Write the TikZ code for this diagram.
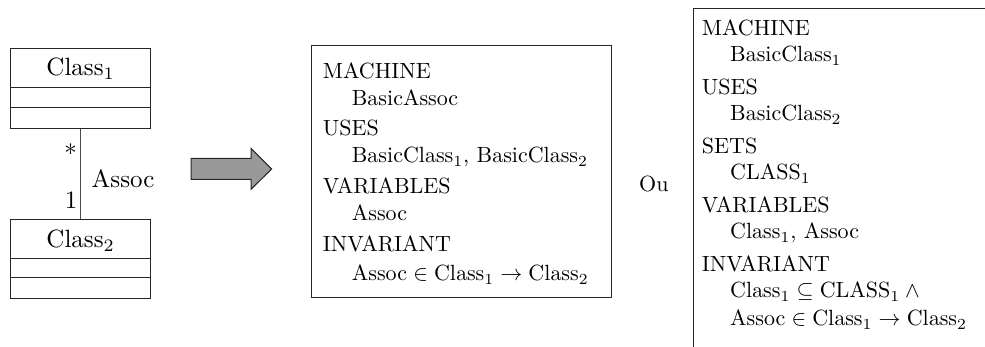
\documentclass[tikz,border=0pt]{standalone}
\usepackage{graphicx}
\newcommand{\bsc}[1]{\scalebox{2.2}{#1}}
\newcommand{\lsc}[1]{\scalebox{2.5}{#1}}
\begin{document}
\begin{tikzpicture}[x=1pt,y=-1pt,
  big/.style={inner sep=0pt},
  txt/.style={inner sep=0pt, anchor=base west},
  box/.style={draw=black!85, line width=1pt, inner sep=0pt},
  assocline/.style={draw=black!70, line width=0.8pt},
  bigarrow/.style={draw=black!85, line width=1pt, fill=black!40}]
\useasboundingbox (0,0) rectangle (985,347);
\clip (0,0) rectangle (985,347);
% UML classes
\node[box, minimum width=140pt, minimum height=80pt] (c1) at (80.7,88.3) {};
\node[big, anchor=base] (c1t) at (80.7,76) {\lsc{Class$_1$}};
\draw[box] (c1.north west) ++(0,40) -- ++(140,0);
\draw[box] (c1.north west) ++(0,60) -- ++(140,0);
\node[box, minimum width=140pt, minimum height=79pt] (c2) at (80.7,258.8) {};
\node[big, anchor=base] (c2t) at (80.7,247.5) {\lsc{Class$_2$}};
\draw[box] (c2.north west) ++(0,40) -- ++(140,0);
\draw[box] (c2.north west) ++(0,59) -- ++(140,0);
\draw[assocline] (c1.south) -- (c2.north);
\node[big, anchor=base east] (m1) at (77,162.5) {\lsc{*}};
\node[big, anchor=base east] (m2) at (77.5,208.3) {\lsc{1}};
\node[big, anchor=base west] (al) at (91.5,188) {\lsc{Assoc}};
% big arrow
\draw[bigarrow] (191,158.3) -- (251,158.3) -- (251,148.3) -- (271.7,169)
  -- (251,189.3) -- (251,179.3) -- (191,179.3) -- cycle;
% middle B machine
\node[box, minimum width=300pt, minimum height=252pt] (mb) at (461.7,172) {};
\node[txt] (mb1) at (322.7,79) {\bsc{MACHINE}};
\node[txt] (mb2) at (351.7,106) {\bsc{BasicAssoc}};
\node[txt] (mb3) at (322.7,136) {\bsc{USES}};
\node[txt] (mb4) at (351.7,163) {\bsc{BasicClass$_1$, BasicClass$_2$}};
\node[txt] (mb5) at (322.7,193.5) {\bsc{VARIABLES}};
\node[txt] (mb6) at (351.7,221) {\bsc{Assoc}};
\node[txt] (mb7) at (322.7,252) {\bsc{INVARIANT}};
\node[txt] (mb8) at (351.7,281) {\bsc{$\mathrm{Assoc}\in\mathrm{Class}_1\rightarrow\mathrm{Class}_2$}};
% Ou
\node[txt] (ou) at (639,192) {\bsc{Ou}};
% right B machine
\node[box, minimum width=400pt, minimum height=400pt, anchor=north west] (rb) at (693.3,8.3) {};
\node[txt] (rb1) at (701.7,36) {\bsc{MACHINE}};
\node[txt] (rb2) at (730,62) {\bsc{BasicClass$_1$}};
\node[txt] (rb3) at (701.7,95) {\bsc{USES}};
\node[txt] (rb4) at (730,121) {\bsc{BasicClass$_2$}};
\node[txt] (rb5) at (701.7,154) {\bsc{SETS}};
\node[txt] (rb6) at (730,180) {\bsc{CLASS$_1$}};
\node[txt] (rb7) at (701.7,213) {\bsc{VARIABLES}};
\node[txt] (rb8) at (730,239) {\bsc{Class$_1$, Assoc}};
\node[txt] (rb9) at (701.7,272) {\bsc{INVARIANT}};
\node[txt] (rb10) at (730,298) {\bsc{$\mathrm{Class}_1\subseteq\mathrm{CLASS}_1\wedge{}$}};
\node[txt] (rb11) at (730,326) {\bsc{$\mathrm{Assoc}\in\mathrm{Class}_1\rightarrow\mathrm{Class}_2$}};
\end{tikzpicture}
\end{document}
